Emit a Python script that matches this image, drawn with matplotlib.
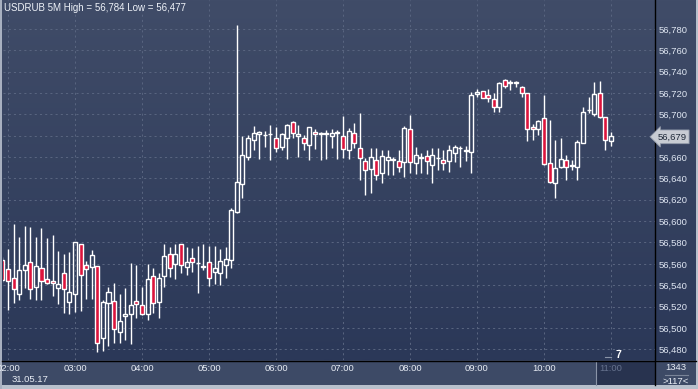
# USDRUB 5M candle chart
import numpy as np
import pandas as pd
import matplotlib.pyplot as plt
from matplotlib.patches import Rectangle

plt.rcParams['font.family'] = ['Liberation Sans', 'DejaVu Sans']

# 5 minute candles from 01:55 to 11:00, 31.05.17
opens = [56.5636, 56.5548, 56.5464, 56.5320, 56.5545, 56.5614, 56.5386, 56.5558, 56.5455, 56.5436,
         56.5370, 56.5511, 56.5245, 56.5314, 56.5786, 56.5586, 56.5567, 56.5577, 56.4902, 56.5230,
         56.5249, 56.4964, 56.5108, 56.5133, 56.5249, 56.5211, 56.5133, 56.5483, 56.5239, 56.5489,
         56.5689, 56.5601, 56.5783, 56.5573, 56.5652, 56.5605, 56.5567, 56.5614, 56.5520, 56.5511,
         56.5586, 56.5633, 56.6083, 56.6345, 56.6604, 56.6760, 56.6820, 56.6807, 56.6814, 56.6776,
         56.6692, 56.6776, 56.6926, 56.6801, 56.6776, 56.6716, 56.6838, 56.6813, 56.6820, 56.6801,
         56.6823, 56.6798, 56.6666, 56.6823, 56.6682, 56.6566, 56.6492, 56.6573, 56.6448, 56.6573,
         56.6576, 56.6563, 56.6557, 56.6860, 56.6541, 56.6588, 56.6610, 56.6529, 56.6592, 56.6573,
         56.6566, 56.6635, 56.6682, 56.6660, 56.6651, 56.7187, 56.7216, 56.7182, 56.7141, 56.7072,
         56.7319, 56.7297, 56.7297, 56.7260, 56.7197, 56.6879, 56.6863, 56.6963, 56.6548, 56.6354,
         56.6510, 56.6573, 56.6520, 56.6504, 56.6729, 56.7041, 56.7000, 56.7204, 56.6972, 56.6751]
highs = [56.5660, 56.5736, 56.5973, 56.5855, 56.5954, 56.5942, 56.5855, 56.5933, 56.5842, 56.5873,
         56.5720, 56.5692, 56.5708, 56.5808, 56.5786, 56.5623, 56.5726, 56.5577, 56.5261, 56.5380,
         56.5417, 56.5314, 56.5374, 56.5608, 56.5586, 56.5380, 56.5601, 56.5558, 56.5511, 56.5789,
         56.5761, 56.5789, 56.5789, 56.5761, 56.5745, 56.5770, 56.5789, 56.5767, 56.5764, 56.5739,
         56.5761, 56.6123, 56.7840, 56.6798, 56.6807, 56.6891, 56.6844, 56.6844, 56.6901, 56.6885,
         56.6823, 56.6910, 56.6941, 56.6901, 56.6807, 56.6885, 56.6863, 56.6838, 56.6854, 56.6863,
         56.6854, 56.6985, 56.6869, 56.6922, 56.7010, 56.6588, 56.6682, 56.6682, 56.6666, 56.6666,
         56.6598, 56.6666, 56.6891, 56.6994, 56.6691, 56.6635, 56.6666, 56.6682, 56.6682, 56.6666,
         56.6713, 56.6713, 56.6704, 56.6704, 56.7213, 56.7235, 56.7222, 56.7235, 56.7197, 56.7307,
         56.7328, 56.7322, 56.7316, 56.7266, 56.7197, 56.6910, 56.6947, 56.7182, 56.6947, 56.6760,
         56.6776, 56.6620, 56.6573, 56.6760, 56.7072, 56.7166, 56.7306, 56.7313, 56.6979, 56.6838]
lows = [56.5430, 56.5167, 56.5236, 56.5261, 56.5370, 56.5267, 56.5261, 56.5261, 56.5410, 56.5302,
        56.5224, 56.5142, 56.5130, 56.5149, 56.5155, 56.5274, 56.5274, 56.4770, 56.4786, 56.4833,
        56.4855, 56.4855, 56.4886, 56.4849, 56.5089, 56.5124, 56.5074, 56.5136, 56.5096, 56.5386,
        56.5473, 56.5455, 56.5511, 56.5492, 56.5520, 56.5330, 56.5542, 56.5395, 56.5408, 56.5405,
        56.5470, 56.5561, 56.6080, 56.6214, 56.6573, 56.6666, 56.6579, 56.6698, 56.6573, 56.6651,
        56.6666, 56.6579, 56.6776, 56.6598, 56.6666, 56.6573, 56.6676, 56.6573, 56.6579, 56.6682,
        56.6579, 56.6588, 56.6579, 56.6682, 56.6385, 56.6245, 56.6267, 56.6385, 56.6361, 56.6432,
        56.6432, 56.6463, 56.6417, 56.6448, 56.6441, 56.6448, 56.6441, 56.6354, 56.6479, 56.6479,
        56.6463, 56.6557, 56.6504, 56.6566, 56.6454, 56.7160, 56.7150, 56.7119, 56.7026, 56.7026,
        56.7244, 56.7228, 56.7254, 56.7160, 56.6754, 56.6760, 56.6807, 56.6526, 56.6354, 56.6214,
        56.6495, 56.6386, 56.6479, 56.6386, 56.6729, 56.7016, 56.6985, 56.6963, 56.6666, 56.6707]
closes = [56.5449, 56.5442, 56.5361, 56.5539, 56.5589, 56.5361, 56.5577, 56.5436, 56.5417, 56.5417,
          56.5408, 56.5361, 56.5336, 56.5801, 56.5492, 56.5548, 56.5680, 56.4855, 56.5239, 56.5333,
          56.4986, 56.5067, 56.5127, 56.5211, 56.5221, 56.5127, 56.5455, 56.5230, 56.5464, 56.5670,
          56.5564, 56.5689, 56.5586, 56.5617, 56.5614, 56.5608, 56.5580, 56.5464, 56.5558, 56.5623,
          56.5642, 56.6104, 56.6364, 56.6620, 56.6776, 56.6823, 56.6832, 56.6810, 56.6816, 56.6682,
          56.6813, 56.6901, 56.6823, 56.6813, 56.6729, 56.6879, 56.6820, 56.6829, 56.6823, 56.6823,
          56.6832, 56.6673, 56.6845, 56.6729, 56.6588, 56.6479, 56.6598, 56.6429, 56.6610, 56.6598,
          56.6579, 56.6510, 56.6869, 56.6557, 56.6616, 56.6598, 56.6566, 56.6616, 56.6595, 56.6548,
          56.6663, 56.6691, 56.6685, 56.6663, 56.7182, 56.7206, 56.7157, 56.7150, 56.7066, 56.7291,
          56.7266, 56.7307, 56.7299, 56.7204, 56.6860, 56.6860, 56.6941, 56.6535, 56.6370, 56.6495,
          56.6579, 56.6510, 56.6523, 56.6745, 56.7026, 56.7044, 56.7191, 56.6979, 56.6760, 56.6795]

times = pd.date_range("2017-05-31 01:55", periods=len(opens), freq="5min")
price_ticks = np.arange(56.48, 56.781, 0.02)
last_price = 56.679
header = "USDRUB 5M High = 56,784 Low = 56,477"

W, H = 698, 389
fig = plt.figure(figsize=(W / 100, H / 100), dpi=100)

# background in pixel coordinates
bg = fig.add_axes([0, 0, 1, 1], zorder=-1)
bg.set_xlim(0, W)
bg.set_ylim(H, 0)
bg.axis("off")
grad = np.linspace(0, 1, 256).reshape(-1, 1)
top_c = np.array([0x40, 0x4c, 0x68]) / 255
bot_c = np.array([0x2b, 0x38, 0x58]) / 255
img = top_c + (bot_c - top_c) * grad[..., None]
bg.imshow(img, extent=(0, W, 360, 0), aspect="auto")
bg.add_patch(Rectangle((0, 360), W, 26, color="#3d4a66", lw=0))
bg.add_patch(Rectangle((596, 361), 59, 25, color="#28334f", lw=0))
bg.plot([596, 596], [361, 385], color="#8a94a8", lw=0.8)
bg.add_patch(Rectangle((0, 385), W, 4, color="#b8c0cc", lw=0))
bg.add_patch(Rectangle((0, 0), 2, H, color="#a8b0c0", lw=0))
bg.add_patch(Rectangle((696, 0), 2, H, color="#b8c0cc", lw=0))
bg.plot([655, 655], [0, 385], color="black", lw=1)
bg.plot([2, 696], [360.5, 360.5], color="black", lw=1)
bg.text(676, 368, "1343", color="#e8edf5", fontsize=6.8, ha="center", va="center")
bg.plot([665, 688], [374.5, 374.5], color="#7a8498", lw=0.8)
bg.text(676, 381, ">117<", color="#e8edf5", fontsize=6.8, ha="center", va="center")
bg.plot([605, 611], [357, 357], color="#8a94a8", lw=0.8)
bg.text(618, 355, "7", color="white", fontsize=7.5, fontweight="bold", ha="center", va="center")
bg.text(12, 380, "31.05.17", color="#e8edf5", fontsize=6.8, ha="left", va="center")

# main price axes
ax = fig.add_axes([3 / W, 29 / H, 652 / W, 360 / H])
ax.set_facecolor("none")
for s in ax.spines.values():
    s.set_visible(False)

x = np.arange(len(opens))
o = np.array(opens)
c = np.array(closes)
hi = np.array(highs)
lo = np.array(lows)
top = np.maximum(o, c)
bot = np.minimum(o, c)
up = c >= o

ax.vlines(x, top, hi, color="white", lw=1.0, zorder=3)
ax.vlines(x, lo, bot, color="white", lw=1.0, zorder=3)
face = np.where(up, "none", "#dc143c")
ax.bar(x, top - bot, bottom=bot, width=0.72, color=face, edgecolor="white",
       linewidth=1.0, zorder=4)

ax.set_xlim(0.104, 116.89)
ax.set_ylim(56.46992, 56.80717)

hour_idx = [i for i, t in enumerate(times) if t.minute == 0]
ax.set_xticks(hour_idx)
ax.set_xticklabels([times[i].strftime("%H:%M") for i in hour_idx])
ax.set_yticks(price_ticks)
ax.set_yticklabels([f"{v:.3f}".replace(".", ",") for v in price_ticks])
ax.yaxis.tick_right()
ax.tick_params(axis="both", length=0, labelsize=6.8)
ax.tick_params(axis="y", pad=2.3, labelcolor="#dfe6f2")
ax.tick_params(axis="x", pad=3.2, labelcolor="#e8edf5")
ax.get_xticklabels()[-1].set_color("#66728e")
ax.grid(True, color="#58647f", lw=0.75, linestyle=(0, (2, 3)), zorder=1)
ax.set_axisbelow(True)

ax.text(0.0015, 0.992, header, transform=ax.transAxes, color="#eef2f8", fontsize=7,
        ha="left", va="top")

# current price marker
ax.annotate(f"{last_price:.3f}".replace(".", ","), xy=(1.004, last_price),
            xycoords=("axes fraction", "data"), color="#1e2838", fontsize=6.8,
            ha="left", va="center", annotation_clip=False, zorder=10,
            bbox=dict(boxstyle="larrow,pad=0.25", fc="#c8ccd3", ec="#9098a8", lw=0.6))

fig.savefig("out.png", dpi=100)
